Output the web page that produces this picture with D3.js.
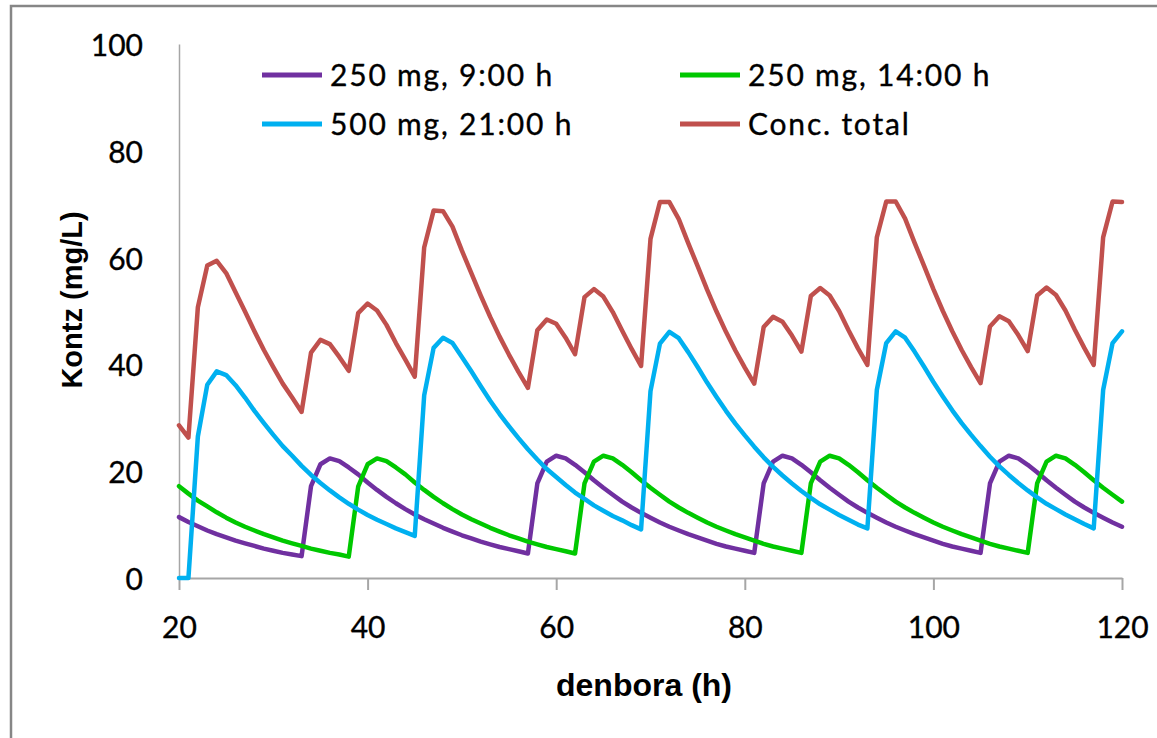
<!DOCTYPE html>
<html><head><meta charset="utf-8">
<script src="https://cdn.jsdelivr.net/npm/d3@7"></script>
<style>body{margin:0;background:#fff}svg{display:block}</style>
</head><body>
<svg id="c" width="1157" height="738"></svg>
<script>
// ---- data ----
const hours = [20,21,22,23,24,25,26,27,28,29,30,31,32,33,34,35,36,37,38,39,40,41,42,43,44,45,46,47,48,49,50,51,52,53,54,55,56,57,58,59,60,61,62,63,64,65,66,67,68,69,70,71,72,73,74,75,76,77,78,79,80,81,82,83,84,85,86,87,88,89,90,91,92,93,94,95,96,97,98,99,100,101,102,103,104,105,106,107,108,109,110,111,112,113,114,115,116,117,118,119,120];

const dose9 = [11.4,10.5,9.7,8.9,8.2,7.6,7.0,6.5,6.0,5.5,5.1,4.7,4.4,4.1,17.2,21.3,22.4,21.9,20.7,19.4,17.9,16.5,15.2,14.0,12.9,11.9,11.0,10.2,9.4,8.7,8.0,7.4,6.8,6.3,5.8,5.4,5.0,4.6,17.7,21.8,22.9,22.4,21.2,19.8,18.3,16.9,15.6,14.3,13.2,12.2,11.3,10.4,9.6,8.9,8.2,7.6,7.0,6.4,5.9,5.5,5.1,4.7,17.7,21.8,22.9,22.4,21.2,19.8,18.3,16.9,15.6,14.3,13.2,12.2,11.3,10.4,9.6,8.9,8.2,7.6,7.0,6.4,5.9,5.5,5.1,4.7,17.7,21.8,22.9,22.4,21.2,19.8,18.3,16.9,15.6,14.3,13.2,12.2,11.3,10.4,9.6];

const dose14 = [17.2,15.8,14.5,13.4,12.3,11.3,10.4,9.6,8.9,8.2,7.6,7.0,6.5,6.0,5.5,5.1,4.7,4.4,4.0,17.1,21.3,22.4,21.9,20.7,19.4,17.9,16.5,15.2,14.0,12.9,11.9,11.0,10.2,9.4,8.7,8.0,7.4,6.8,6.3,5.8,5.4,5.0,4.6,17.7,21.8,22.9,22.4,21.2,19.8,18.3,16.9,15.6,14.3,13.2,12.2,11.3,10.4,9.6,8.9,8.2,7.6,7.0,6.4,5.9,5.5,5.1,4.7,17.7,21.8,22.9,22.4,21.2,19.8,18.3,16.9,15.6,14.3,13.2,12.2,11.3,10.4,9.6,8.9,8.2,7.6,7.0,6.4,5.9,5.5,5.1,4.7,17.7,21.8,22.9,22.4,21.2,19.8,18.3,16.9,15.6,14.3];

const dose21 = [0,0,26.5,36.2,38.7,38.0,36.1,33.8,31.3,29.0,26.8,24.7,22.9,21.0,19.3,17.8,16.4,15.1,13.9,12.8,11.8,10.9,10.1,9.3,8.6,7.9,34.2,43.1,45.0,44.0,41.4,38.7,35.9,33.2,30.7,28.4,26.2,24.1,22.2,20.4,18.9,17.4,16.0,14.8,13.6,12.6,11.6,10.8,9.9,9.1,35.0,43.9,46.1,44.9,42.3,39.5,36.6,33.9,31.3,28.9,26.7,24.6,22.6,20.8,19.2,17.7,16.3,15.0,13.8,12.8,11.8,10.9,10.0,9.3,35.2,44.0,46.2,45.0,42.4,39.6,36.7,34.0,31.4,29.0,26.8,24.7,22.7,20.9,19.3,17.8,16.4,15.1,13.9,12.9,11.9,11.0,10.1,9.3,35.2,44.0,46.2];

const total = [28.6,26.3,50.7,58.5,59.4,57.1,53.5,49.9,46.2,42.7,39.5,36.4,33.8,31.1,42.2,44.6,43.8,41.4,38.8,49.6,51.4,50.1,47.4,44.0,40.9,37.7,61.9,68.8,68.7,65.8,61.3,57.1,52.9,48.9,45.2,41.8,38.6,35.6,46.4,48.4,47.6,45.0,41.9,52.6,54.1,52.7,49.8,46.3,42.9,39.7,63.5,70.4,70.4,67.2,62.7,58.4,54.0,49.9,46.1,42.6,39.4,36.4,47.0,48.9,48.0,45.4,42.4,52.8,54.3,52.9,50.0,46.4,43.0,39.9,63.8,70.5,70.5,67.3,62.8,58.5,54.1,50.0,46.2,42.7,39.5,36.5,47.1,49.0,48.1,45.5,42.5,52.9,54.4,53.0,50.1,46.5,43.1,39.9,63.8,70.5,70.4];

const seriesNames = ["250 mg, 9:00 h","250 mg, 14:00 h","500 mg, 21:00 h","Conc. total"];
const seriesColors = ["#7030a0","#00c800","#00b0f0","#c0504d"];
const seriesValues = [dose9, dose14, dose21, total];

const xTicks = [20,40,60,80,100,120];
const yTicks = [0,20,40,60,80,100];
const xTitle = "denbora (h)";
const yTitle = "Kontz (mg/L)";

// ---- drawing ----
const svg = d3.select("#c");
const tickFont = "Lato, Carlito, 'Open Sans', sans-serif";
const titleFont = "'Liberation Sans', Arial, sans-serif";

svg.append("rect").attr("x",11).attr("y",6).attr("width",1300).attr("height",900)
  .attr("fill","none").attr("stroke","#868686").attr("stroke-width",2.5);

const x = d3.scaleLinear().domain([20,120]).range([179,1122]);
const y = d3.scaleLinear().domain([0,100]).range([578,44]);

const gx = svg.append("g").attr("transform","translate(0,578)")
  .call(d3.axisBottom(x).tickValues(xTicks).tickSize(12).tickSizeOuter(0).tickFormat(d3.format("d")));
gx.select(".domain").attr("stroke","#a6a6a6").attr("stroke-width",2);
gx.selectAll(".tick line").attr("stroke","#a6a6a6").attr("stroke-width",2);
gx.selectAll(".tick text").attr("y",60).attr("dy",null)
  .attr("font-family",tickFont).attr("font-size",30).attr("fill","#000")
  .attr("stroke","#000").attr("stroke-width",0.35);

const gy = svg.append("g").attr("transform","translate(179,0)")
  .call(d3.axisLeft(y).tickValues(yTicks).tickSize(0).tickPadding(36).tickFormat(d3.format("d")));
gy.select(".domain").attr("stroke","#a6a6a6").attr("stroke-width",1.5);
gy.selectAll(".tick text").attr("dy","0.38em")
  .attr("font-family",tickFont).attr("font-size",30).attr("fill","#000")
  .attr("stroke","#000").attr("stroke-width",0.35);

const line = d3.line().x((d,i)=>x(hours[i])).y(d=>y(d));
seriesValues.forEach((vals,k)=>{
  svg.append("path").attr("d",line(vals)).attr("fill","none")
    .attr("stroke",seriesColors[k]).attr("stroke-width",4.5)
    .attr("stroke-linejoin","round").attr("stroke-linecap","round");
});

// legend
const legPos = [[262,75],[680,75],[262,124],[680,124]];
seriesNames.forEach((name,k)=>{
  const [lx,ly] = legPos[k];
  svg.append("line").attr("x1",lx).attr("x2",lx+60).attr("y1",ly).attr("y2",ly)
    .attr("stroke",seriesColors[k]).attr("stroke-width",5);
  svg.append("text").attr("x",lx+68).attr("y",ly+11).text(name)
    .attr("font-family",tickFont).attr("font-size",30).attr("letter-spacing","1.8px")
    .attr("fill","#000").attr("stroke","#000").attr("stroke-width",0.35);
});

svg.append("text").attr("x",644).attr("y",696).attr("text-anchor","middle")
  .attr("font-family",titleFont).attr("font-weight","bold").attr("font-size",32).text(xTitle);
svg.append("text").attr("transform","translate(82,300) rotate(-90)").attr("text-anchor","middle")
  .attr("font-family",titleFont).attr("font-weight","bold").attr("font-size",29).text(yTitle);
</script>
</body></html>
